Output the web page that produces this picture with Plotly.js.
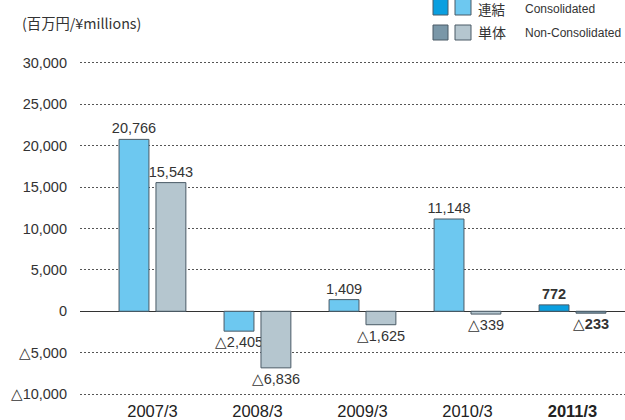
<!DOCTYPE html>
<html><head><meta charset="utf-8">
<script src="https://cdn.plot.ly/plotly-3.0.1.min.js"></script>
<style>html,body{margin:0;padding:0;background:#fff}#chart{width:625px;height:420px}</style>
</head><body><div id="chart"></div>
<script>
var categories = ['2007/3','2008/3','2009/3','2010/3','2011/3'];
var consolidated = [20766, -2405, 1409, 11148, 772];
var nonConsolidated = [15543, -6836, -1625, -339, -233];
var yTickVals = [-10000,-5000,0,5000,10000,15000,20000,25000,30000];
var yTickText = ['△10,000','△5,000','0','5,000','10,000','15,000','20,000','25,000','30,000'];
var xTickText = ['2007/3','2008/3','2009/3','2010/3','<b>2011/3</b>'];

function fmt(v, bold){
  var s = Math.abs(v).toLocaleString('en-US');
  if (bold) s = '<b>' + s + '</b>';
  return (v < 0 ? '△' : '') + s;
}
var last = categories.length - 1;
var xIdx = categories.map(function(c,i){return i;});

var consColors = categories.map(function(c,i){return i===last ? '#0a9fe0' : '#6dc8f0';});
var nonColors = categories.map(function(c,i){return i===last ? '#7a97a8' : '#b5c6cf';});

var font = '"Liberation Sans", Arial, sans-serif';
var traces = [
  {type:'bar', x:xIdx, y:consolidated, name:'連結 Consolidated',
   marker:{color:consColors, line:{color:'#4a5a66', width:1}},
   text:consolidated.map(function(v,i){return fmt(v,i===last);}),
   textposition:'outside', cliponaxis:false, constraintext:'none', textangle:0,
   textfont:{family:font, size:14.5, color:'#333'}},
  {type:'bar', x:xIdx, y:nonConsolidated, name:'単体 Non-Consolidated',
   marker:{color:nonColors, line:{color:'#4a5a66', width:1}},
   text:nonConsolidated.map(function(v,i){return fmt(v,i===last);}),
   textposition:'outside', cliponaxis:false, constraintext:'none', textangle:0,
   textfont:{family:font, size:14.5, color:'#333'}}
];

var layout = {
  width:625, height:420,
  margin:{l:80, r:0, t:58, b:21},
  paper_bgcolor:'#fff', plot_bgcolor:'#fff',
  barmode:'group', bargap:0.297, bargroupgap:0.19,
  showlegend:false,
  font:{family:font, size:13, color:'#333'},
  xaxis:{range:[-0.69,4.5], tickvals:xIdx, ticktext:xTickText, showgrid:false, zeroline:false,
         showline:false, ticks:'', ticklabelstandoff:0, tickfont:{size:16.5, color:'#222'}, fixedrange:true},
  yaxis:{range:[-10600,30600], tickvals:yTickVals, ticktext:yTickText,
         showgrid:true, gridcolor:'#555', griddash:'2px,2px', gridwidth:1,
         zeroline:true, zerolinecolor:'#333', zerolinewidth:1.2,
         showline:false, ticks:'', ticklabelstandoff:12, tickfont:{size:14.5, color:'#333'}, fixedrange:true}
};
var plotW = 625-80, plotH = 420-58-21;
function px(x){return (x-80)/plotW;}
function py(y){return (420-21-y)/plotH;}
layout.shapes = [
  {type:'rect', xref:'paper', yref:'paper', x0:px(433), x1:px(448), y0:py(15), y1:py(-1), fillcolor:'#0a9fe0', line:{color:'#4a5a66', width:1}},
  {type:'rect', xref:'paper', yref:'paper', x0:px(455), x1:px(471), y0:py(15), y1:py(-1), fillcolor:'#6dc8f0', line:{color:'#4a5a66', width:1}},
  {type:'rect', xref:'paper', yref:'paper', x0:px(433), x1:px(448), y0:py(40), y1:py(25), fillcolor:'#7a97a8', line:{color:'#4a5a66', width:1}},
  {type:'rect', xref:'paper', yref:'paper', x0:px(455), x1:px(471), y0:py(40), y1:py(25), fillcolor:'#b5c6cf', line:{color:'#4a5a66', width:1}}
];
layout.annotations = [
  {xref:'paper', yref:'paper', x:px(20), y:py(22), xanchor:'left', yanchor:'middle', showarrow:false,
   text:'(百万円/¥millions)', font:{family:'"Noto Sans CJK JP", sans-serif', size:14.3, color:'#333'}},
  {xref:'paper', yref:'paper', x:px(476), y:py(9.5), xanchor:'left', yanchor:'middle', showarrow:false,
   text:'連結', font:{family:'"Noto Sans CJK JP"', size:13.5, color:'#333'}},
  {xref:'paper', yref:'paper', x:px(523), y:py(9.5), xanchor:'left', yanchor:'middle', showarrow:false,
   text:'Consolidated', font:{family:font, size:12, color:'#333'}},
  {xref:'paper', yref:'paper', x:px(476), y:py(32), xanchor:'left', yanchor:'middle', showarrow:false,
   text:'単体', font:{family:'"Noto Sans CJK JP"', size:14, color:'#333'}},
  {xref:'paper', yref:'paper', x:px(523), y:py(33), xanchor:'left', yanchor:'middle', showarrow:false,
   text:'Non-Consolidated', font:{family:font, size:12, color:'#333'}}
];
Plotly.newPlot('chart', traces, layout, {displayModeBar:false, staticPlot:true});
</script></body></html>
